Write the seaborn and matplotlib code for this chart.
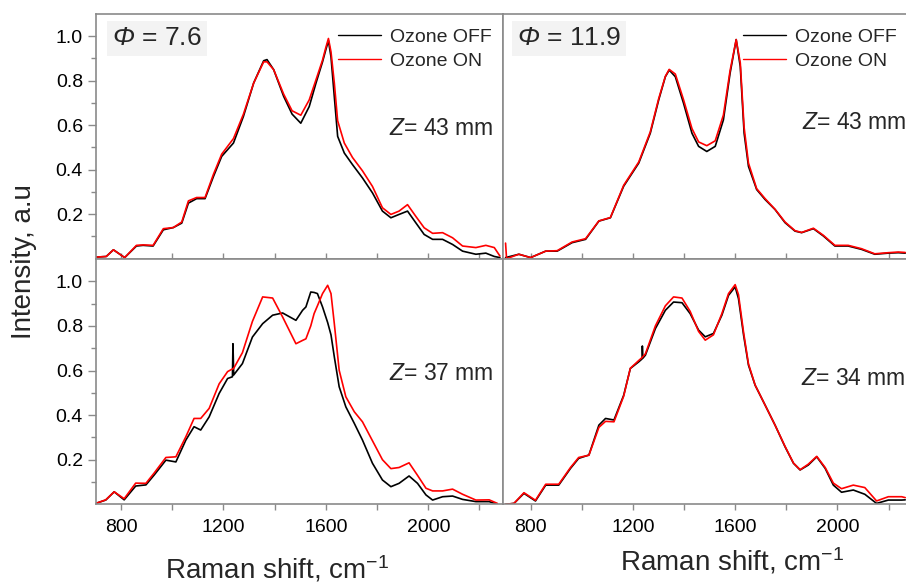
import matplotlib
matplotlib.use("Agg")
import matplotlib.pyplot as plt
import seaborn as sns

# --- Raman spectra (shift in cm-1, normalised intensity) ---
# top left: Phi = 7.6, Z = 43 mm
tl_shift = [700, 742, 770, 814, 860, 886, 925, 965, 1004, 1037, 1063, 1095, 1128, 1161,
            1193, 1239, 1278, 1318, 1357, 1370, 1396, 1435, 1468, 1502, 1535, 1561, 1587,
            1600, 1610, 1620, 1633, 1646, 1672, 1704, 1743, 1782, 1821, 1854, 1886, 1919,
            1951, 1984, 2017, 2056, 2095, 2134, 2186, 2225, 2258, 2280]
tl_off = [0.007, 0.01, 0.04, 0.005, 0.057, 0.06, 0.057, 0.13, 0.14, 0.16, 0.25, 0.27, 0.27, 0.37,
          0.46, 0.52, 0.64, 0.79, 0.89, 0.895, 0.85, 0.73, 0.65, 0.609, 0.684, 0.788, 0.885,
          0.94, 0.98, 0.907, 0.728, 0.55, 0.475, 0.423, 0.363, 0.296, 0.214, 0.184, 0.199, 0.214,
          0.162, 0.109, 0.087, 0.087, 0.064, 0.034, 0.02, 0.025, 0.01, 0.005]
tl_on = [0.007, 0.01, 0.04, 0.005, 0.06, 0.062, 0.06, 0.135, 0.14, 0.165, 0.26, 0.275, 0.275, 0.38,
         0.47, 0.54, 0.65, 0.79, 0.885, 0.885, 0.85, 0.74, 0.665, 0.645, 0.714, 0.803, 0.893,
         0.95, 0.99, 0.93, 0.79, 0.62, 0.52, 0.455, 0.395, 0.325, 0.229, 0.199, 0.214, 0.243,
         0.191, 0.139, 0.114, 0.117, 0.094, 0.057, 0.05, 0.06, 0.05, 0.012]

# top right: Phi = 11.9, Z = 43 mm
tr_shift = [702, 754, 800, 859, 904, 962, 1015, 1067, 1112, 1164, 1223, 1268, 1301, 1327,
            1342, 1366, 1398, 1431, 1457, 1489, 1522, 1554, 1580, 1604, 1620, 1635, 1652,
            1684, 1717, 1756, 1795, 1834, 1860, 1906, 1945, 1990, 2042, 2094, 2146, 2199,
            2238, 2265]
tr_off = [0.005, 0.02, 0.005, 0.034, 0.034, 0.072, 0.087, 0.169, 0.184, 0.326, 0.43, 0.564,
          0.714, 0.818, 0.848, 0.818, 0.699, 0.564, 0.505, 0.482, 0.505, 0.624, 0.833, 0.985,
          0.863, 0.564, 0.415, 0.311, 0.266, 0.221, 0.162, 0.124, 0.117, 0.135, 0.102, 0.057,
          0.057, 0.042, 0.02, 0.025, 0.027, 0.025]
tr_shift_on = [702, 706, 754, 800, 859, 904, 962, 1015, 1067, 1112, 1164, 1223, 1268, 1301,
               1327, 1342, 1366, 1398, 1431, 1457, 1489, 1522, 1554, 1580, 1604, 1620, 1635,
               1652, 1684, 1717, 1756, 1795, 1834, 1860, 1906, 1945, 1990, 2042, 2094, 2146,
               2199, 2238, 2265]
tr_on = [0.07, 0.0, 0.02, 0.005, 0.034, 0.036, 0.075, 0.09, 0.17, 0.185, 0.33, 0.435, 0.57,
         0.72, 0.82, 0.851, 0.83, 0.715, 0.585, 0.525, 0.508, 0.53, 0.646, 0.845, 0.985, 0.88,
         0.59, 0.43, 0.315, 0.27, 0.222, 0.165, 0.126, 0.118, 0.137, 0.105, 0.06, 0.06, 0.045,
         0.022, 0.027, 0.03, 0.028]

# bottom left: Phi = 7.6, Z = 37 mm
bl_shift = [701, 740, 773, 812, 857, 897, 929, 975, 1014, 1053, 1085, 1111, 1144, 1183, 1216,
            1235, 1237, 1240, 1274, 1313, 1353, 1392, 1431, 1483, 1509, 1522, 1541, 1554, 1567,
            1587, 1607, 1620, 1633, 1652, 1678, 1711, 1743, 1782, 1821, 1854, 1886, 1925, 1958,
            1991, 2017, 2056, 2095, 2134, 2186, 2238, 2270]
bl_off = [0.004, 0.019, 0.056, 0.02, 0.082, 0.087, 0.131, 0.198, 0.19, 0.288, 0.348, 0.333,
          0.392, 0.497, 0.564, 0.572, 0.72, 0.58, 0.631, 0.75, 0.81, 0.848, 0.858, 0.825, 0.87,
          0.885, 0.952, 0.95, 0.945, 0.885, 0.815, 0.76, 0.661, 0.527, 0.437, 0.363, 0.288,
          0.184, 0.109, 0.079, 0.094, 0.127, 0.094, 0.042, 0.019, 0.034, 0.037, 0.022, 0.012,
          0.012, 0.0]
bl_on = [0.004, 0.02, 0.056, 0.025, 0.095, 0.094, 0.14, 0.21, 0.213, 0.303, 0.385, 0.385,
         0.43, 0.54, 0.595, 0.607, 0.607, 0.61, 0.68, 0.82, 0.93, 0.925, 0.84, 0.72, 0.735,
         0.742, 0.8, 0.855, 0.89, 0.945, 0.982, 0.945, 0.81, 0.601, 0.482, 0.415, 0.37, 0.285,
         0.2, 0.16, 0.165, 0.186, 0.13, 0.072, 0.06, 0.06, 0.068, 0.045, 0.019, 0.02, 0.004]

# bottom right: Phi = 11.9, Z = 34 mm
br_shift = [702, 735, 774, 819, 859, 910, 956, 988, 1028, 1067, 1093, 1126, 1164, 1190, 1223,
            1236, 1237, 1239, 1249, 1288, 1327, 1359, 1392, 1424, 1457, 1483, 1515, 1548, 1574,
            1600, 1613, 1633, 1652, 1678, 1717, 1756, 1795, 1828, 1854, 1886, 1919, 1952, 1984,
            2016, 2062, 2107, 2153, 2199, 2251, 2265]
br_off = [0.0, 0.004, 0.049, 0.015, 0.086, 0.086, 0.161, 0.206, 0.221, 0.355, 0.385, 0.378,
          0.489, 0.609, 0.639, 0.652, 0.71, 0.655, 0.669, 0.788, 0.87, 0.907, 0.904, 0.855,
          0.781, 0.751, 0.766, 0.848, 0.937, 0.975, 0.922, 0.758, 0.624, 0.534, 0.445, 0.355,
          0.258, 0.184, 0.154, 0.176, 0.213, 0.161, 0.086, 0.054, 0.064, 0.045, 0.004, 0.019,
          0.019, 0.02]
br_on = [0.0, 0.004, 0.052, 0.018, 0.09, 0.09, 0.165, 0.21, 0.22, 0.345, 0.372, 0.37, 0.485,
         0.61, 0.645, 0.658, 0.66, 0.662, 0.675, 0.8, 0.89, 0.93, 0.925, 0.865, 0.775, 0.736,
         0.76, 0.855, 0.945, 0.985, 0.94, 0.77, 0.63, 0.535, 0.445, 0.355, 0.26, 0.185, 0.155,
         0.18, 0.215, 0.165, 0.095, 0.07, 0.086, 0.075, 0.015, 0.034, 0.034, 0.03]

phi_labels = ["7.6", "11.9"]
z_labels = ["43", "43", "37", "34"]

sns.set_theme(style="ticks")
plt.rcParams['font.family'] = ['Liberation Sans', 'DejaVu Sans']
plt.rcParams['mathtext.fontset'] = 'custom'
plt.rcParams['mathtext.rm'] = 'Liberation Sans'
plt.rcParams['mathtext.it'] = 'Liberation Sans:italic'
plt.rcParams['mathtext.sf'] = 'Liberation Sans:italic'

W, H = 906, 583
fig = plt.figure(figsize=(W / 100, H / 100), dpi=100)


def box(x0, y0, x1, y1):
    # pixel box -> figure fraction rect
    return [x0 / W, 1 - y1 / H, (x1 - x0) / W, (y1 - y0) / H]


ax_tl = fig.add_axes(box(95.5, 14, 503, 258.7))
ax_tr = fig.add_axes(box(503, 14, 911.6, 258.7))
ax_bl = fig.add_axes(box(95.5, 259, 503, 504.3))
ax_br = fig.add_axes(box(503, 259, 911.6, 504.3))

panels = [
    (ax_tl, tl_shift, tl_off, tl_shift, tl_on, (700, 2292)),
    (ax_tr, tr_shift, tr_off, tr_shift_on, tr_on, (692, 2290)),
    (ax_bl, bl_shift, bl_off, bl_shift, bl_on, (700, 2292)),
    (ax_br, br_shift, br_off, br_shift, br_on, (692, 2290)),
]

spine_col = '#8a8a8a'
for i, (ax, xs_off, ys_off, xs_on, ys_on, xlim) in enumerate(panels):
    top = i < 2
    sns.lineplot(x=xs_off, y=ys_off, ax=ax, color='black', lw=1.2, estimator=None,
                 sort=False, label='Ozone OFF' if top else None, legend=False)
    sns.lineplot(x=xs_on, y=ys_on, ax=ax, color='#ff0000', lw=1.2, estimator=None,
                 sort=False, label='Ozone ON' if top else None, legend=False)
    ax.set_xlim(*xlim)
    ax.set_ylim(0, 1.1)
    ax.set_xticks([800, 1200, 1600, 2000])
    ax.set_xticks([1000, 1400, 1800, 2200], minor=True)
    ax.set_yticks([0.2, 0.4, 0.6, 0.8, 1.0])
    ax.set_yticks([0.1, 0.3, 0.5, 0.7, 0.9], minor=True)
    for s in ax.spines.values():
        s.set_color(spine_col)
        s.set_linewidth(1.2)
    ax.tick_params(axis='both', which='both', color=spine_col, labelcolor='black',
                   labelsize=14, width=1.0)
    ax.tick_params(axis='x', which='both', length=4, pad=6.5,
                   direction='in' if top else 'out', labelbottom=not top)
    if i % 2 == 0:
        ax.tick_params(axis='y', which='major', length=6, direction='out', pad=3)
        ax.tick_params(axis='y', which='minor', length=3.5, direction='out')
        ax.yaxis.set_major_formatter(matplotlib.ticker.FormatStrFormatter('%.1f'))
    else:
        ax.tick_params(axis='y', which='both', left=False, labelleft=False)
    ax.set_xlabel('')
    ax.set_ylabel('')
    ax.grid(False)
    ax.set_facecolor('white')

    if top:
        leg = ax.legend(loc='upper right',
                        bbox_to_anchor=(1.008 if i == 0 else (906 - 503) / 408.6 + 0.012, 1),
                        frameon=False, fontsize=14, handlelength=2.2, handletextpad=0.45,
                        labelspacing=0.32, borderaxespad=0.3, borderpad=0.45)
        for ln in leg.get_lines():
            ln.set_linewidth(1.0)
        phi_x = 0.04 if i == 0 else 0.034
        ax.text(phi_x, 0.9, r'$\mathsf{\Phi}$ = ' + phi_labels[i], transform=ax.transAxes,
                fontsize=19, ha='left', va='center',
                bbox=dict(boxstyle='square,pad=0.2', fc='#f3f3f3', ec='none'))

# Z annotations
z_pos = [(0.72, 0.534), (0.731, 0.555), (0.72, 0.535), (0.729, 0.514)]
for (ax, *_), zl, (zx, zy) in zip(panels, z_labels, z_pos):
    ax.text(zx, zy, r'$Z$= ' + zl + ' mm', transform=ax.transAxes, fontsize=16.5,
            ha='left', va='center')

# axis labels
ax_bl.set_xlabel(r'Raman shift, cm$^{-1}$', fontsize=20)
ax_bl.xaxis.set_label_coords(0.445, -0.2)
ax_br.set_xlabel(r'Raman shift, cm$^{-1}$', fontsize=20)
ax_br.xaxis.set_label_coords(0.56, -0.168)
fig.text(24 / W, 1 - 261.5 / H, 'Intensity, a.u', rotation=90, fontsize=20,
         ha='center', va='center')

fig.savefig('out.png', dpi=100)
